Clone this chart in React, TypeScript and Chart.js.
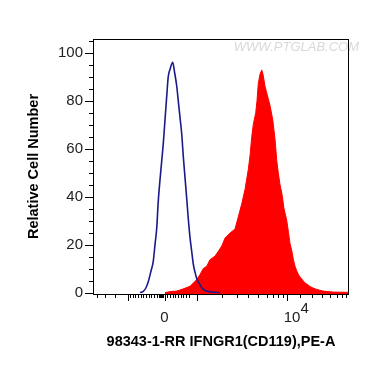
import React, { useEffect, useRef } from 'react';
import { Chart, registerables } from 'chart.js';
Chart.register(...registerables);

// Isotype control (blue outline)
const controlX = [188, 201, 212, 221, 232, 241, 248, 255, 261, 268, 275, 281, 288, 295, 301, 308, 319, 326, 335, 341, 348, 355, 361, 368, 375, 381, 388, 395, 401, 408, 416, 424, 432, 441, 456, 476, 508];
const controlY = [0, 0.5, 2, 4.5, 9, 13, 20, 27, 38, 47, 55, 62, 72, 82, 90, 93, 96, 92, 86, 80, 73, 66, 57, 48, 39, 31, 23, 17, 12, 8.5, 5.5, 4, 2.5, 1.3, 0.6, 0.2, 0];

// Sample (red filled)
const sampleX = [288, 316, 335, 360, 388, 415, 428, 441, 455, 468, 488, 500, 515, 528, 548, 568, 581, 595, 608, 621, 628, 635, 641, 651, 656, 661, 668, 675, 680, 688, 698, 708, 719, 728, 735, 741, 748, 756, 764, 775, 782, 788, 796, 801, 808, 815, 822, 828, 840, 848, 860, 868, 880, 895, 921, 960, 1020];
const sampleY = [0, 0.5, 0.6, 1.5, 2.6, 5.4, 7.5, 10, 11, 13.7, 15.2, 17, 19.4, 22.7, 24.8, 26.5, 31.5, 37, 43, 51.2, 57, 65, 70, 75, 80, 87, 91, 92.8, 91, 86, 82, 78, 72, 64, 55, 50, 45, 41, 35, 30, 25, 20.5, 17, 14, 11, 9, 7.5, 6.5, 5, 4, 3.2, 2.5, 1.9, 1.3, 0.6, 0.2, 0.1];

const yTickValues = [0, 20, 40, 60, 80, 100];
const yMinorTicks = [5, 10, 15, 25, 30, 35, 45, 50, 55, 65, 70, 75, 85, 90, 95, 105];
const xMajorTicks = [138, 286, 415, 775];
const xMinorTicks = [15, 48, 88, 148, 159, 169, 180, 191, 201, 212, 223, 233, 244, 255, 265, 269, 273, 277, 281, 297, 308, 319, 329, 340, 351, 361, 372, 383, 515, 575, 620, 660, 695, 720, 740, 759, 828, 875, 915, 948, 975, 995, 1012];
const xLabelValues = [286, 775];
const xLabelBases = ['0', '10'];
const xLabelExps = ['', '4'];

const X_MIN = 0;
const X_MAX = 1024;
const Y_MIN = -0.6;
const Y_MAX = 105.7;

const FONT = '"Liberation Sans", Arial, sans-serif';

const decorPlugin = {
  id: 'decor',
  beforeDatasetsDraw(chart: any) {
    const { ctx, chartArea } = chart;
    ctx.save();
    ctx.fillStyle = '#d9d9d9';
    ctx.font = 'italic 13px ' + FONT;
    ctx.textAlign = 'right';
    ctx.textBaseline = 'middle';
    ctx.fillText('WWW.PTGLAB.COM', chartArea.right + 10, chartArea.top + 8);
    ctx.restore();
  },
  afterDraw(chart: any) {
    const { ctx, chartArea, scales } = chart;
    const xs = scales.x;
    const ys = scales.y;
    ctx.save();
    ctx.strokeStyle = '#000';
    ctx.lineWidth = 1;
    ctx.strokeRect(chartArea.left + 0.5, chartArea.top + 0.5, chartArea.right - chartArea.left - 1, chartArea.bottom - chartArea.top);
    ctx.beginPath();
    yTickValues.forEach((v) => {
      const y = Math.round(ys.getPixelForValue(v)) + 0.5;
      ctx.moveTo(chartArea.left - 8, y);
      ctx.lineTo(chartArea.left, y);
    });
    yMinorTicks.forEach((v) => {
      const y = Math.round(ys.getPixelForValue(v)) + 0.5;
      ctx.moveTo(chartArea.left - 4, y);
      ctx.lineTo(chartArea.left, y);
    });
    const b = chartArea.bottom;
    xMajorTicks.forEach((v) => {
      const x = Math.round(xs.getPixelForValue(v)) + 0.5;
      ctx.moveTo(x, b);
      ctx.lineTo(x, b + 7);
    });
    xMinorTicks.forEach((v) => {
      const x = Math.round(xs.getPixelForValue(v)) + 0.5;
      ctx.moveTo(x, b);
      ctx.lineTo(x, b + 4);
    });
    ctx.stroke();

    ctx.fillStyle = '#222';
    ctx.font = '15px ' + FONT;
    ctx.textBaseline = 'alphabetic';
    xLabelValues.forEach((v, i) => {
      const x = xs.getPixelForValue(v);
      const base = xLabelBases[i];
      const exp = xLabelExps[i];
      const wb = ctx.measureText(base).width;
      const left = exp ? x - 3 : x - wb / 2;
      ctx.textAlign = 'left';
      ctx.fillText(base, left, b + 28);
      if (exp) ctx.fillText(exp, left + wb, b + 19);
    });
    ctx.restore();
  },
};

export default function App() {
  const ref = useRef<HTMLCanvasElement | null>(null);
  useEffect(() => {
    if (!ref.current) return;
    const controlData = controlX.map((x, i) => ({ x, y: controlY[i] }));
    const sampleData = sampleX.map((x, i) => ({ x, y: sampleY[i] }));
    const chart = new Chart(ref.current, {
      type: 'line',
      data: {
        datasets: [
          {
            label: 'Control',
            data: controlData,
            borderColor: '#1a1a8a',
            borderWidth: 1.6,
            pointRadius: 0,
            fill: false,
            cubicInterpolationMode: 'monotone',
          },
          {
            label: 'IFNGR1',
            data: sampleData,
            borderColor: '#ff0000',
            backgroundColor: '#ff0000',
            borderWidth: 1,
            pointRadius: 0,
            fill: 'start',
            tension: 0,
          },
        ],
      },
      options: {
        responsive: false,
        animation: false,
        devicePixelRatio: 1,
        layout: { padding: { top: 39, right: 21, left: 0, bottom: 0 } },
        plugins: { legend: { display: false }, tooltip: { enabled: false } },
        scales: {
          x: {
            type: 'linear',
            min: X_MIN,
            max: X_MAX,
            grid: { display: false, drawTicks: false },
            border: { display: false },
            ticks: { display: false },
            title: {
              display: true,
              text: '98343-1-RR IFNGR1(CD119),PE-A',
              color: '#000',
              font: { family: FONT, size: 14.5, weight: 'bold' },
              padding: { top: 0, bottom: 16 },
            },
            afterFit: (s: any) => {
              s.height = 73;
            },
          },
          y: {
            type: 'linear',
            min: Y_MIN,
            max: Y_MAX,
            grid: { display: false, drawTicks: false },
            border: { display: false },
            afterBuildTicks: (s: any) => {
              s.ticks = yTickValues.map((v) => ({ value: v }));
            },
            ticks: {
              color: '#222',
              font: { family: FONT, size: 15 },
              padding: 10,
            },
            title: {
              display: true,
              text: 'Relative Cell Number',
              color: '#000',
              font: { family: FONT, size: 14.5, weight: 'bold' },
              padding: { top: 25.5, bottom: 0 },
            },
            afterFit: (s: any) => {
              s.width = 93;
            },
          },
        },
      },
      plugins: [decorPlugin],
    } as any);
    return () => chart.destroy();
  }, []);
  return (
    <div style={{ position: 'absolute', left: 0, top: 0, width: 370, height: 367, background: '#fff' }}>
      <canvas ref={ref} width={370} height={367} />
    </div>
  );
}
